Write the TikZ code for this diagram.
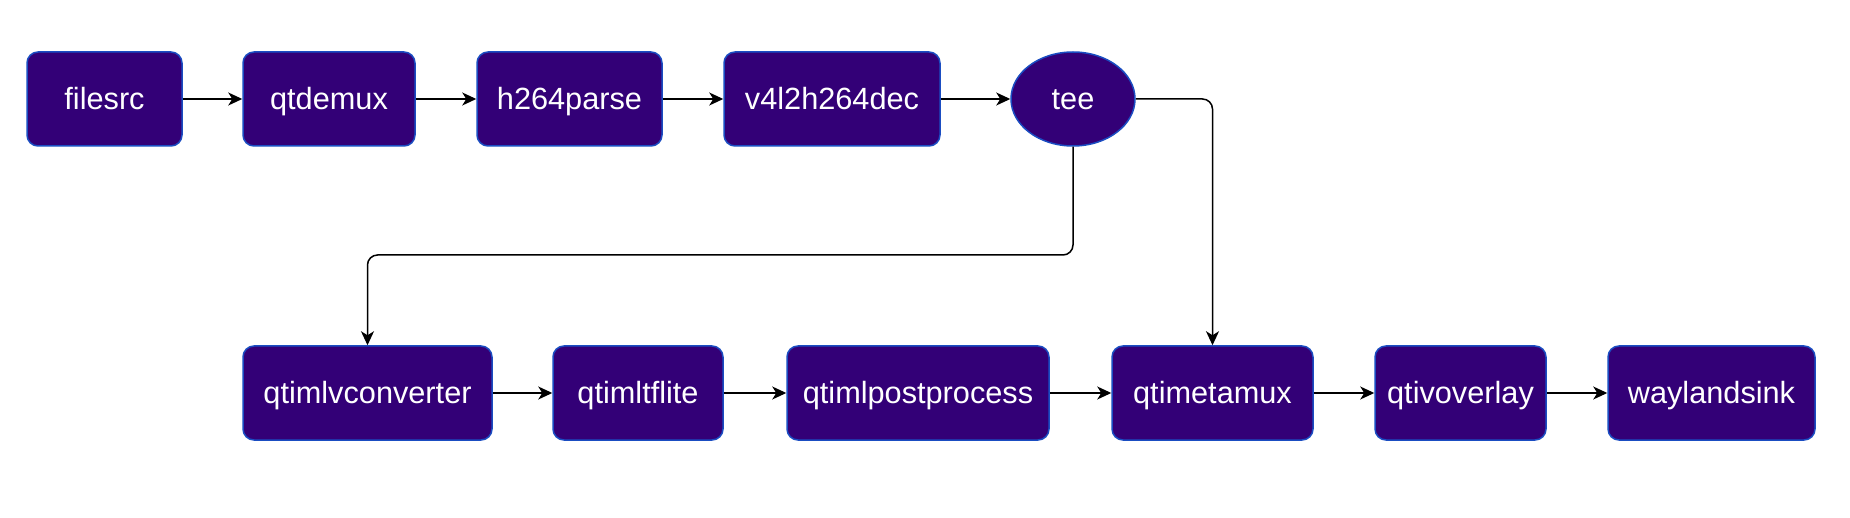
\documentclass[tikz,border=0pt]{standalone}
\usepackage{fontspec}
\setmainfont{Liberation Sans}
\usetikzlibrary{arrows.meta,shapes.geometric}
\definecolor{elemfill}{HTML}{330077}
\definecolor{elemline}{HTML}{1A4DC2}
\begin{document}
\begin{tikzpicture}[x=1pt,y=-1pt,
    elem/.style={draw=elemline,fill=elemfill,line width=1.5pt,rounded corners=11pt,
        text=white,font=\fontsize{30.7}{34}\selectfont,inner sep=0pt,minimum height=94pt,
        text height=22pt,text depth=0pt},
    teeelem/.style={elem,ellipse,rounded corners=0pt},
    link/.style={line width=1.5pt,rounded corners=10pt,-{Stealth[length=14pt,width=13pt,inset=4pt]}}]
    % Canvas
    \useasboundingbox (0,0) rectangle (1850,518);

    % Top row
    \node[elem,minimum width=155pt] (filesrc) at (104.5,99) {filesrc};
    \node[elem,minimum width=172pt] (qtdemux) at (329,99) {qtdemux};
    \node[elem,minimum width=185pt] (h264parse) at (569.5,99) {h264parse};
    \node[elem,minimum width=216pt] (v4l2h264dec) at (832,99) {v4l2h264dec};
    \node[teeelem,minimum width=124pt] (tee) at (1073,99) {tee};

    % Bottom row
    \node[elem,minimum width=249pt] (qtimlvconverter) at (367.5,393) {qtimlvconverter};
    \node[elem,minimum width=170pt] (qtimltflite) at (638,393) {qtimltflite};
    \node[elem,minimum width=262pt] (qtimlpostprocess) at (918,393) {qtimlpostprocess};
    \node[elem,minimum width=201pt] (qtimetamux) at (1212.5,393) {qtimetamux};
    \node[elem,minimum width=171pt] (qtivoverlay) at (1460.5,393) {qtivoverlay};
    \node[elem,minimum width=207pt] (waylandsink) at (1711.5,393) {waylandsink};

    % Links
    \draw[link] (filesrc) -- (qtdemux);
    \draw[link] (qtdemux) -- (h264parse);
    \draw[link] (h264parse) -- (v4l2h264dec);
    \draw[link] (v4l2h264dec) -- (tee);

    % Tee branches
    \coordinate (split) at (367.5,255);
    \draw[link] (tee.south) |- (split) -- (qtimlvconverter.north);
    \draw[link] (tee.east) -| (qtimetamux.north);

    \draw[link] (qtimlvconverter) -- (qtimltflite);
    \draw[link] (qtimltflite) -- (qtimlpostprocess);
    \draw[link] (qtimlpostprocess) -- (qtimetamux);
    \draw[link] (qtimetamux) -- (qtivoverlay);
    \draw[link] (qtivoverlay) -- (waylandsink);
\end{tikzpicture}
\end{document}
